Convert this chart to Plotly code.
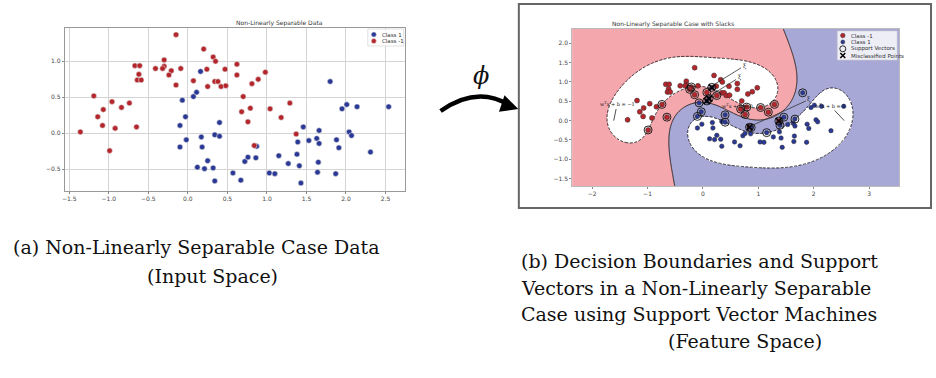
import numpy as np
import plotly.graph_objects as go

# ---------------- data ----------------
red_x = [-0.15, 0.20, 0.32, 0.35, -0.30, -0.30, -0.32, -0.41, -0.21, -0.24,
         -0.67, -0.61, -0.62, -0.64, -0.59, -0.09, -0.15, 0.07, 0.24, 0.25,
         0.34, 0.38, 0.42, 0.48, 0.47, 0.62, 0.62, 0.81, 0.89, 0.98,
         0.70, 0.68, 0.79, 0.76, 0.84, 1.04, 1.18, 1.29, 1.37, -1.36,
         -1.19, -1.14, -1.07, -1.08, -0.99, -0.96, -0.92, -0.84, -0.74, -0.65]
red_y = [1.37, 1.17, 1.06, 1.00, 1.02, 0.93, 0.90, 0.90, 0.87, 0.81,
         0.94, 0.94, 0.82, 0.74, 0.74, 0.90, 0.67, 0.73, 0.89, 0.65,
         0.72, 0.72, 0.65, 0.66, 0.89, 0.81, 0.96, 0.69, 0.75, 0.85,
         0.51, 0.30, 0.35, 0.16, -0.17, 0.34, 0.22, 0.42, -0.01, 0.02,
         0.52, 0.23, 0.33, 0.11, -0.24, 0.44, 0.07, 0.36, 0.42, 0.09]
blue_x = [0.16, 0.11, 0.07, -0.07, -0.03, -0.10, -0.02, -0.10, 0.17, 0.18,
          0.34, 0.40, 0.40, 0.12, 0.21, 0.25, 0.32, 0.34, 0.57, 0.67,
          0.72, 0.76, 0.86, 0.87, 1.15, 1.03, 1.10, 1.27, 1.38, 1.39,
          1.41, 1.43, 1.46, 1.53, 1.63, 1.66, 1.66, 1.65, 1.64, 1.80,
          1.95, 2.01, 2.14, 1.88, 1.91, 2.04, 2.07, 1.87, 2.31, 2.54]
blue_y = [0.86, 0.57, 0.51, 0.46, 0.23, 0.11, -0.09, -0.19, -0.05, -0.19,
          -0.02, 0.15, -0.04, -0.47, -0.49, -0.38, -0.48, -0.66, -0.55, -0.65,
          -0.39, -0.33, -0.34, -0.18, -0.31, -0.55, -0.56, -0.42, -0.29, -0.12,
          -0.45, -0.69, 0.09, -0.10, -0.07, -0.14, 0.04, -0.40, -0.54, 0.72,
          0.34, 0.40, 0.37, -0.09, -0.20, 0.02, -0.03, -0.56, -0.26, 0.37]

left_xticks = [-1.5, -1.0, -0.5, 0.0, 0.5, 1.0, 1.5, 2.0, 2.5]
left_yticks = [-0.5, 0.0, 0.5, 1.0]
right_xticks = [-2, -1, 0, 1, 2, 3]
right_yticks = [-1.5, -1.0, -0.5, 0.0, 0.5, 1.0, 1.5, 2.0]

svm_C = 1.5

# text labels on the right chart
eq_labels = ["w<sup>T</sup>x + b = \u22121", "w<sup>T</sup>x + b = 0", "w<sup>T</sup>x + b = 1"]
eq_x = [-1.55, 0.62, 2.30]
eq_y = [0.42, 0.37, 0.38]
eq_ax = [-1.61, 0.45, 2.55]
eq_ay = [0.0, 0.30, 0.0]
xi_x = [0.75, 0.66, 1.92]
xi_y = [1.42, 1.12, 0.55]
xi_from_x = [0.15, 0.09, 0.88]
xi_from_y = [0.89, 0.61, -0.13]

legend_a = ["Class 1", "Class -1"]
legend_b = ["Class -1", "Class 1", "Support Vectors", "Misclassified Points"]

captions_a = ["(a) Non-Linearly Separable Case Data", "(Input Space)"]
captions_b = ["(b) Decision Boundaries and Support",
              "Vectors in a Non-Linearly Separable",
              "Case using Support Vector Machines",
              "(Feature Space)"]

# ---------------- SVM (RBF kernel, dual coordinate descent) ----------------
X = np.column_stack([np.r_[red_x, blue_x], np.r_[red_y, blue_y]])
Y = np.r_[-np.ones(len(red_x)), np.ones(len(blue_x))]
gamma = 1.0 / (X.shape[1] * X.var())

def kern(A, B):
    d = ((A[:, None, :] - B[None, :, :]) ** 2).sum(-1)
    return np.exp(-gamma * d) + 1.0

K = kern(X, X)
Q = K * Y[:, None] * Y[None, :]
alpha = np.zeros(len(Y))
for _ in range(400):
    for i in range(len(Y)):
        g = Q[i] @ alpha - 1.0
        alpha[i] = min(max(alpha[i] - g / Q[i, i], 0.0), svm_C)

gx = np.linspace(X[:, 0].min() - 1, X[:, 0].max() + 1, 420)
gy = np.linspace(X[:, 1].min() - 1, X[:, 1].max() + 1, 260)
GX, GY = np.meshgrid(gx, gy)
G = np.column_stack([GX.ravel(), GY.ravel()])
Z = (kern(G, X) @ (alpha * Y)).reshape(GX.shape)
f_train = K @ (alpha * Y)
sv = alpha > 1e-6
mis = Y * f_train < 0

# ---------------- figure ----------------
W, H = 936, 378
def px(x): return x / W
def py(y): return 1 - y / H

RED = "#B5262C"
BLUE = "#2A3896"
PINK = "#F4A7AD"
LBLUE = "#A8A8D7"
tickfont = dict(family="DejaVu Sans", size=6, color="#444")

fig = go.Figure()

# left chart
fig.add_trace(go.Scatter(x=blue_x, y=blue_y, mode="markers", name=legend_a[0],
                         marker=dict(color=BLUE, size=5.5, line=dict(color="#ddd", width=0.6)),
                         xaxis="x", yaxis="y"))
fig.add_trace(go.Scatter(x=red_x, y=red_y, mode="markers", name=legend_a[1],
                         marker=dict(color=RED, size=5.5, line=dict(color="#ddd", width=0.6)),
                         xaxis="x", yaxis="y"))

# right chart: regions
Zc = np.clip(Z, -2, 2)
cs = [[0, "white"], [0.25, "white"], [0.25, PINK], [0.5, PINK],
      [0.5, LBLUE], [0.75, LBLUE], [0.75, "white"], [1, "white"]]
fig.add_trace(go.Heatmap(x=gx, y=gy, z=Zc, zmin=-2, zmax=2, colorscale=cs,
                         showscale=False, hoverinfo="skip", xaxis="x2", yaxis="y2"))
fig.add_trace(go.Contour(x=gx, y=gy, z=Z, contours=dict(coloring="none", start=-1, end=1, size=2),
                         line=dict(color="#222", width=1, dash="3px,1.5px"), showscale=False,
                         hoverinfo="skip", xaxis="x2", yaxis="y2"))
fig.add_trace(go.Contour(x=gx, y=gy, z=Z, contours=dict(coloring="none", start=0, end=0, size=1),
                         line=dict(color="#222", width=1), showscale=False,
                         hoverinfo="skip", xaxis="x2", yaxis="y2"))

red_m = dict(color=RED, size=5, line=dict(color="#333", width=0.5))
blue_m = dict(color=BLUE, size=4.5, line=dict(color="#333", width=0.5))
sv_m = dict(symbol="circle-open", color="#111", size=8, line=dict(width=0.9))
mis_m = dict(symbol="x-thin", color="#000", size=6, line=dict(width=1.5, color="#000"))
fig.add_trace(go.Scatter(x=red_x, y=red_y, mode="markers", marker=red_m, xaxis="x2", yaxis="y2"))
fig.add_trace(go.Scatter(x=blue_x, y=blue_y, mode="markers", marker=blue_m, xaxis="x2", yaxis="y2"))
fig.add_trace(go.Scatter(x=X[sv, 0], y=X[sv, 1], mode="markers", marker=sv_m, xaxis="x2", yaxis="y2"))
fig.add_trace(go.Scatter(x=X[mis, 0], y=X[mis, 1], mode="markers", marker=mis_m, xaxis="x2", yaxis="y2"))

annotations = []
shapes = []

# ---- compact legends drawn on a pixel-coordinate overlay axis (x3/y3) ----
def add_legend(labels, markers, box, key_x, text_x, row_y):
    fig.add_trace(go.Scatter(x=[box[0], box[1], box[1], box[0], box[0]],
                             y=[box[2], box[2], box[3], box[3], box[2]], mode="lines", fill="toself",
                             fillcolor="rgba(255,255,255,0.8)", line=dict(color="#ccc", width=0.6),
                             xaxis="x3", yaxis="y3", hoverinfo="skip"))
    for lab, mk, yy in zip(labels, markers, row_y):
        fig.add_trace(go.Scatter(x=[key_x], y=[yy], mode="markers", marker=mk, xaxis="x3", yaxis="y3",
                                 hoverinfo="skip"))
        annotations.append(dict(text=lab, x=text_x, y=yy, xref="x3", yref="y3", xanchor="left",
                                yanchor="middle", showarrow=False,
                                font=dict(family="DejaVu Sans", size=5.5, color="#333")))

add_legend(legend_a,
           [dict(color=BLUE, size=5, line=dict(color="#ddd", width=0.5)),
            dict(color=RED, size=5, line=dict(color="#ddd", width=0.5))],
           (366, 402, 29, 46), 372, 378, [34.5, 41])
add_legend(legend_b,
           [dict(red_m, size=4.5), dict(blue_m, size=4), dict(sv_m, size=6), dict(mis_m, size=5)],
           (837, 897, 31, 60), 842.5, 849, [35.5, 42, 48.8, 55.5])

# titles
annotations.append(dict(text="Non-Linearly Separable Data", x=px(232), y=py(23), xref="paper", yref="paper",
                        yanchor="middle", showarrow=False, font=dict(family="DejaVu Sans", size=6, color="#333")))
annotations.append(dict(text="Non-Linearly Separable Case with Slacks", x=px(735), y=py(24), xref="paper",
                        yref="paper", yanchor="middle", showarrow=False,
                        font=dict(family="DejaVu Sans", size=6, color="#333")))
# equation labels and slacks
for t, x, y, ax, ay in zip(eq_labels, eq_x, eq_y, eq_ax, eq_ay):
    annotations.append(dict(text=t, x=ax, y=ay, ax=x, ay=y, xref="x2", yref="y2", axref="x2", ayref="y2",
                            showarrow=True, arrowhead=0, arrowwidth=0.8, arrowcolor="#222",
                            font=dict(family="DejaVu Serif", size=5, color="#111")))
for x, y, fx, fy in zip(xi_x, xi_y, xi_from_x, xi_from_y):
    annotations.append(dict(text="\u03be", x=fx, y=fy, ax=x, ay=y, xref="x2", yref="y2", axref="x2", ayref="y2",
                            showarrow=True, arrowhead=0, arrowwidth=0.8, arrowcolor="#333",
                            font=dict(family="DejaVu Serif", size=6, color="#111")))
# phi and arrow head
annotations.append(dict(text="<i>\u03d5</i>", x=px(480), y=py(76), xref="paper", yref="paper", showarrow=False,
                        yanchor="middle", font=dict(family="DejaVu Serif", size=24, color="#111")))
annotations.append(dict(text="", x=px(517), y=py(109), ax=-9, ay=-3, xref="paper", yref="paper",
                        showarrow=True, arrowhead=2, arrowsize=1.0, arrowwidth=3.5, arrowcolor="#000"))
# captions
cap_font = dict(family="DejaVu Serif", size=19, color="#111")
cap_a_x = [8, 142]
cap_a_y = [247, 276]
for t, x, y in zip(captions_a, cap_a_x, cap_a_y):
    annotations.append(dict(text=t, x=px(x), y=py(y), xref="paper", yref="paper", xanchor="left",
                            yanchor="middle", showarrow=False, font=cap_font))
cap_b_x = [518, 518, 518, 665]
cap_b_y = [261, 288, 314, 341]
for t, x, y in zip(captions_b, cap_b_x, cap_b_y):
    annotations.append(dict(text=t, x=px(x), y=py(y), xref="paper", yref="paper", xanchor="left",
                            yanchor="middle", showarrow=False, font=cap_font))

shapes += [
    dict(type="path", xref="paper", yref="paper",
         path=f"M {px(439)},{py(111)} Q {px(477)},{py(84)} {px(511)},{py(107)}",
         line=dict(color="#000", width=4.5)),
    dict(type="rect", xref="paper", yref="paper", x0=px(517.5), x1=px(931), y0=py(208), y1=py(4),
         line=dict(color="#666", width=2)),
]

axis_common = dict(showgrid=True, zeroline=False, showline=True, mirror=True, ticks="outside",
                   ticklen=2, tickcolor="#888", tickfont=tickfont, tickformat=".1f")

fig.update_layout(
    width=W, height=H, margin=dict(l=0, r=0, t=0, b=0),
    paper_bgcolor="white", plot_bgcolor="rgba(0,0,0,0)", showlegend=False,
    xaxis=dict(domain=[px(62), px(403)], range=[-1.557, 2.743], tickvals=left_xticks,
               gridcolor="#d4d4d4", linecolor="#999", linewidth=1.2, anchor="y", **axis_common),
    yaxis=dict(domain=[py(191), py(28)], range=[-0.80, 1.4625], tickvals=left_yticks,
               gridcolor="#d4d4d4", linecolor="#999", linewidth=1.2, anchor="x", **axis_common),
    xaxis2=dict(domain=[px(571), px(899)], range=[gx[0], gx[-1]], tickvals=right_xticks,
                gridcolor="rgba(110,110,110,0.3)", linecolor="#bbb", anchor="y2", layer="above traces",
                **dict(axis_common, tickformat="d")),
    yaxis2=dict(domain=[py(186), py(29)], range=[gy[0], gy[-1]], tickvals=right_yticks,
                gridcolor="rgba(110,110,110,0.3)", linecolor="#bbb", anchor="x2", layer="above traces",
                **axis_common),
    xaxis3=dict(domain=[0, 1], range=[0, W], visible=False, anchor="y3", fixedrange=True),
    yaxis3=dict(domain=[0, 1], range=[H, 0], visible=False, anchor="x3", fixedrange=True),
    annotations=annotations, shapes=shapes,
)

fig.write_html("out.html")
